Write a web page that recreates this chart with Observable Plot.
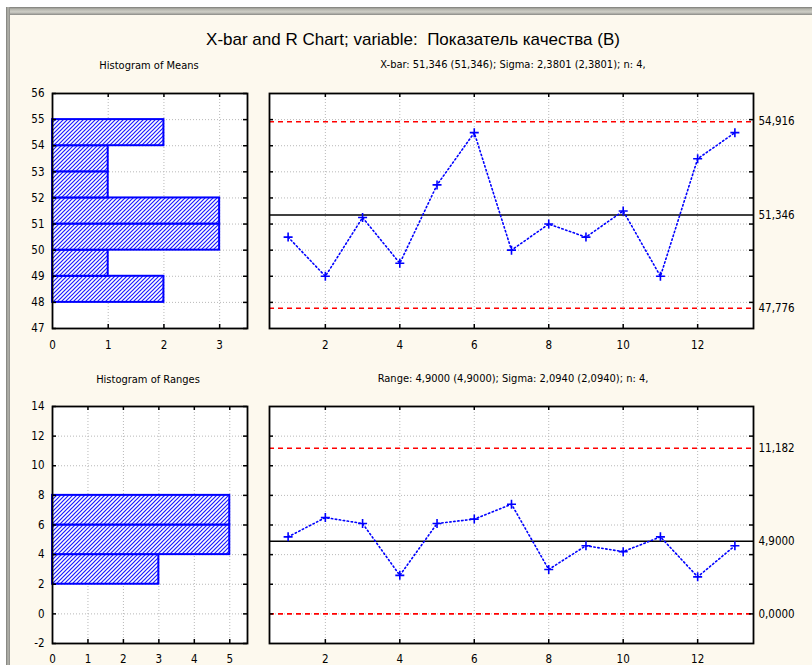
<!DOCTYPE html>
<html><head><meta charset="utf-8">
<script src="https://cdn.jsdelivr.net/npm/d3@7"></script>
<script src="https://cdn.jsdelivr.net/npm/@observablehq/plot@0.6"></script>
<style>
html,body{margin:0;padding:0;background:#ffffff;}
#root{position:relative;width:812px;height:665px;overflow:hidden;background:#ffffff;}
.abs{position:absolute;}
.ttl{font-family:"Liberation Sans",Arial,sans-serif;font-size:17px;white-space:pre;color:#000;transform:translate(-50%,-50%);}
.sub{font-family:"Liberation Sans Narrow","DejaVu Sans Condensed",Arial,sans-serif;font-size:11px;white-space:pre;color:#000;transform:translate(-50%,-50%);}
</style></head><body><div id="root"></div><script>
// ---------- data ----------
const sampleNo = [1,2,3,4,5,6,7,8,9,10,11,12,13];
const xbarMeans = [50.5,49.0,51.25,49.5,52.5,54.5,50.0,51.0,50.5,51.5,49.0,53.5,54.5];
const ranges = [5.2,6.5,6.1,2.6,6.1,6.4,7.4,3.0,4.6,4.2,5.2,2.5,4.6];
const meanBinLo = [48,49,50,51,52,53,54];
const meanBinHi = [49,50,51,52,53,54,55];
const meanBinCounts = [2,1,3,3,1,1,2];
const rangeBinLo = [2,4,6];
const rangeBinHi = [4,6,8];
const rangeBinCounts = [3,5,5];
const xbarLimits = [47.776, 51.346, 54.916]; // LCL, CL, UCL
const rangeLimits = [0, 4.9, 11.182];
const xbarSigma = 2.3801, rangeSigma = 2.094, nSize = 4;
const sampleTicks = [2,4,6,8,10,12];
const meanTicks = [47,48,49,50,51,52,53,54,55,56];
const meanCountTicks = [0,1,2,3];
const rangeTicks = [-2,0,2,4,6,8,10,12,14];
const rangeCountTicks = [0,1,2,3,4,5];
const titleText = "X-bar and R Chart; variable:  Показатель качества (B)";

// ---------- helpers ----------
const loc = d3.formatLocale({decimal:",", thousands:"\u00a0", grouping:[3], currency:["",""], minus:"-"});
const fmt5 = loc.format(".5r");
const FONT = '"Liberation Sans Narrow","DejaVu Sans Condensed",Arial,sans-serif';
const root = document.getElementById("root");

function addDiv(cls, text, x, y, css) {
  const d = document.createElement("div");
  d.className = "abs " + cls;
  d.textContent = text;
  d.style.left = x + "px"; d.style.top = y + "px";
  if (css) Object.assign(d.style, css);
  root.appendChild(d);
  return d;
}
function box(x, y, w, h, bg) {
  const d = document.createElement("div");
  d.className = "abs";
  Object.assign(d.style, {left:x+"px", top:y+"px", width:w+"px", height:h+"px", background:bg});
  root.appendChild(d);
}
// window frame + cream panel
box(10, 15, 802, 650, "#fdf9ee");
box(6, 7, 806, 8, "linear-gradient(to bottom,#7a7a76 0,#b4b4ac 2px,#cfcfc7 5px,#8a8a86 8px)");
box(6, 7, 4, 658, "linear-gradient(to right,#7a7a76 0,#b8b8b0 2px,#8a8a86 4px)");

// hatch pattern defs
const defs = d3.create("svg").attr("width",0).attr("height",0).style("position","absolute");
const pat = defs.append("defs").append("pattern").attr("id","hatch")
  .attr("patternUnits","userSpaceOnUse").attr("width",4).attr("height",4);
pat.append("rect").attr("width",4).attr("height",4).attr("fill","white");
pat.append("path").attr("d","M-1,1 l2,-2 M0,4 l4,-4 M3,5 l2,-2")
  .attr("stroke","#1a1aff").attr("stroke-width",1.2);
root.appendChild(defs.node());

const gridStyle = {stroke:"#b8b8b8", strokeOpacity:1, strokeDasharray:"1,2", strokeWidth:1};

function place(svg, left, top) {
  svg.style.position = "absolute";
  svg.style.left = left + "px";
  svg.style.top = top + "px";
  root.appendChild(svg);
}

function panelMarks(xt, yt, pw, ph) {
  return {
    under: [
      Plot.frame({fill:"white", stroke:null}),
      Plot.ruleX(xt, {x: d => d, ...gridStyle}),
      Plot.ruleY(yt, {y: d => d, ...gridStyle})
    ],
    over: [
      Plot.frame({stroke:"black", strokeWidth:1.8}),
      Plot.tickX(xt, {x: d => d, insetBottom: ph - 4, stroke:"black", strokeWidth:1.5}),
      Plot.tickX(xt, {x: d => d, insetTop: ph - 4, stroke:"black", strokeWidth:1.5}),
      Plot.tickY(yt, {y: d => d, insetRight: pw - 4, stroke:"black", strokeWidth:1.5}),
      Plot.tickY(yt, {y: d => d, insetLeft: pw - 4, stroke:"black", strokeWidth:1.5})
    ]
  };
}

const plusSymbol = {draw(ctx, size) { const r = Math.sqrt(size / Math.PI);
  ctx.moveTo(-r, 0); ctx.lineTo(r, 0); ctx.moveTo(0, -r); ctx.lineTo(0, r); }};

const plotStyle = {fontFamily: FONT, fontSize: "11.5px", background: "transparent", overflow: "visible", color: "#000"};

function histogram({lo, hi, counts, xDomain, xt, yDomain, yt, top, height, mt, mb, labPad}) {
  const ml = 52, mr = 15, w = 262;
  const pw = w - ml - mr, ph = height - mt - mb;
  const bins = lo.map((l, i) => ({lo: l, hi: hi[i], n: counts[i]}));
  const pm = panelMarks(xt.filter(d => d > xDomain[0]), yt, pw, ph);
  const svg = Plot.plot({
    width: w, height, marginLeft: ml, marginRight: mr, marginTop: mt, marginBottom: mb,
    style: plotStyle,
    x: {domain: xDomain}, y: {domain: yDomain},
    marks: [
      ...pm.under,
      Plot.rectX(bins, {y1: "lo", y2: "hi", x: "n", fill: "url(#hatch)", stroke: "#0000ff", strokeWidth: 2}),
      ...pm.over,
      Plot.axisY({ticks: yt, tickSize: 0, tickPadding: 8, tickFormat: d => String(d), label: null}),
      Plot.axisX({ticks: xt, tickSize: 0, tickPadding: labPad, tickFormat: d => String(d), label: null})
    ]
  });
  place(svg, 0, top);
}

function controlChart({values, limits, yDomain, yt, top, height, mt, mb, labPad}) {
  const ml = 9, mr = 59, w = 552;
  const pw = w - ml - mr, ph = height - mt - mb;
  const pts = sampleNo.map((s, i) => ({s, v: values[i]}));
  const pm = panelMarks(sampleTicks, yt.filter(d => d > yDomain[0] && d < yDomain[1]), pw, ph);
  const svg = Plot.plot({
    width: w, height, marginLeft: ml, marginRight: mr, marginTop: mt, marginBottom: mb,
    style: plotStyle,
    x: {domain: [0.5, 13.5]}, y: {domain: yDomain},
    marks: [
      ...pm.under,
      Plot.ruleY([limits[0], limits[2]], {y: d => d, stroke: "#ff0000", strokeWidth: 1.6, strokeDasharray: "5,4"}),
      Plot.ruleY([limits[1]], {y: d => d, stroke: "black", strokeWidth: 1.5}),
      Plot.line(pts, {x: "s", y: "v", stroke: "#0000ff", strokeWidth: 1.6, strokeDasharray: "1.4,2.6"}),
      Plot.dot(pts, {x: "s", y: "v", symbol: plusSymbol, r: 4.5, stroke: "#0000ff", strokeWidth: 1.6, fill: "none"}),
      ...pm.over,
      Plot.axisY({anchor: "right", ticks: limits, tickSize: 0, tickPadding: 5, tickFormat: fmt5, label: null}),
      Plot.axisX({ticks: sampleTicks, tickSize: 0, tickPadding: labPad, tickFormat: d => String(d), label: null})
    ]
  });
  place(svg, 260, top);
}

// ---------- top row ----------
histogram({lo: meanBinLo, hi: meanBinHi, counts: meanBinCounts, xDomain: [0, 3.5], xt: meanCountTicks,
  yDomain: [47, 56], yt: meanTicks, top: 83, height: 270, mt: 10, mb: 25, labPad: 12});
controlChart({values: xbarMeans, limits: xbarLimits, yDomain: [47, 56], yt: meanTicks,
  top: 83, height: 270, mt: 10, mb: 25, labPad: 12});

// ---------- bottom row ----------
histogram({lo: rangeBinLo, hi: rangeBinHi, counts: rangeBinCounts, xDomain: [0, 5.5], xt: rangeCountTicks,
  yDomain: [-2, 14], yt: rangeTicks, top: 396, height: 269, mt: 10, mb: 22, labPad: 11});
controlChart({values: ranges, limits: rangeLimits, yDomain: [-2, 14], yt: rangeTicks,
  top: 396, height: 269, mt: 10, mb: 22, labPad: 11});

// ---------- titles ----------
addDiv("ttl", titleText, 413, 40);
addDiv("sub", "Histogram of Means", 149, 65);
addDiv("sub", `X-bar: ${fmt5(xbarLimits[1])} (${fmt5(xbarLimits[1])}); Sigma: ${fmt5(xbarSigma)} (${fmt5(xbarSigma)}); n: ${nSize},`, 513, 64);
addDiv("sub", "Histogram of Ranges", 148, 379);
addDiv("sub", `Range: ${fmt5(rangeLimits[1])} (${fmt5(rangeLimits[1])}); Sigma: ${fmt5(rangeSigma)} (${fmt5(rangeSigma)}); n: ${nSize},`, 513, 378);
</script></body></html>
